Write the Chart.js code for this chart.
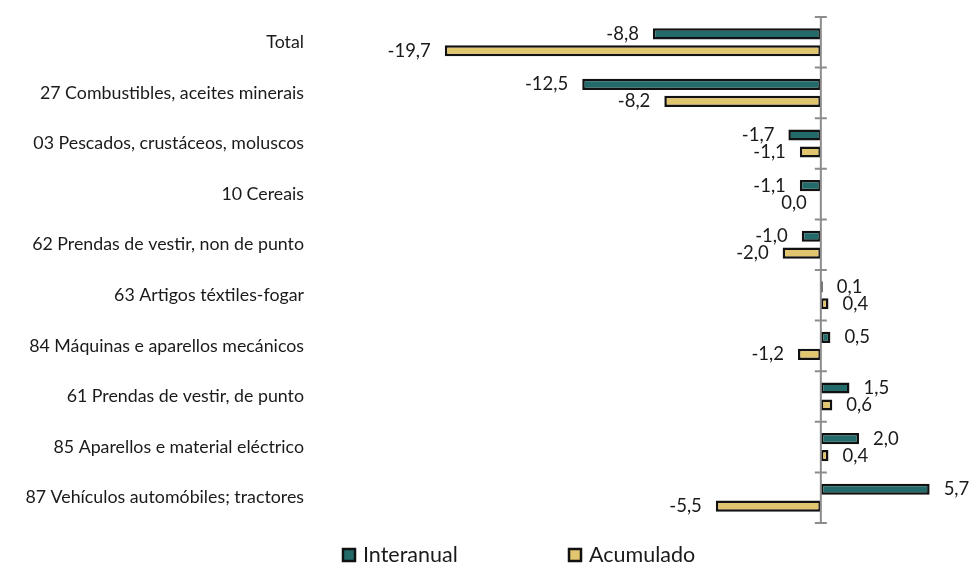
<!DOCTYPE html>
<html>
<head>
<meta charset="utf-8">
<script src="https://cdn.jsdelivr.net/npm/chart.js@4.4.1/dist/chart.umd.min.js"></script>
<style>
  html, body { margin: 0; padding: 0; background: #fff; }
  #wrap { width: 971px; height: 566px; }
</style>
</head>
<body>
<div id="wrap"><canvas id="chart"></canvas></div>
<script>
const categories = [
  'Total',
  '27 Combustibles, aceites minerais',
  '03 Pescados, crustáceos, moluscos',
  '10 Cereais',
  '62 Prendas de vestir, non de punto',
  '63 Artigos téxtiles-fogar',
  '84 Máquinas e aparellos mecánicos',
  '61 Prendas de vestir, de punto',
  '85 Aparellos e material eléctrico',
  '87 Vehículos automóbiles; tractores'
];
const interanual = [-8.8, -12.5, -1.7, -1.1, -1.0, 0.1, 0.5, 1.5, 2.0, 5.7];
const acumulado = [-19.7, -8.2, -1.1, 0.0, -2.0, 0.4, -1.2, 0.6, 0.4, -5.5];

const FONT = 'Lato';
const fmt = v => v.toFixed(1).replace('.', ',');

const zeroAxis = {
  id: 'zeroAxis',
  afterDatasetsDraw(chart) {
    const { ctx, chartArea } = chart;
    const x0 = chart.scales.x.getPixelForValue(0);
    const n = categories.length;
    const step = (chartArea.bottom - chartArea.top) / n;
    ctx.save();
    ctx.strokeStyle = '#8c8c8c';
    ctx.lineWidth = 2;
    ctx.beginPath();
    ctx.moveTo(x0, chartArea.top);
    ctx.lineTo(x0, chartArea.bottom);
    for (let i = 0; i <= n; i++) {
      const y = chartArea.top + i * step;
      ctx.moveTo(x0 - 6, y);
      ctx.lineTo(x0 + 6, y);
    }
    ctx.stroke();
    ctx.restore();
  }
};

const valueLabels = {
  id: 'valueLabels',
  afterDatasetsDraw(chart) {
    const { ctx } = chart;
    ctx.save();
    ctx.font = '18.5px ' + FONT;
    ctx.fillStyle = '#1a1a1a';
    ctx.textBaseline = 'middle';
    chart.data.datasets.forEach((ds, di) => {
      chart.getDatasetMeta(di).data.forEach((bar, i) => {
        const v = ds.data[i];
        if (v <= 0) {
          ctx.textAlign = 'right';
          ctx.fillText(fmt(v), bar.x - 14, bar.y);
        } else {
          ctx.textAlign = 'left';
          ctx.fillText(fmt(v), bar.x + 14, bar.y);
        }
      });
    });
    ctx.restore();
  }
};

const bottomLegend = {
  id: 'bottomLegend',
  afterDraw(chart) {
    const { ctx } = chart;
    const xs = [342, 568];
    const y = 555;
    ctx.save();
    ctx.font = '21.5px ' + FONT;
    ctx.textBaseline = 'middle';
    ctx.textAlign = 'left';
    chart.data.datasets.forEach((ds, i) => {
      ctx.fillStyle = ds.backgroundColor;
      ctx.fillRect(xs[i], y - 7, 14, 14);
      ctx.strokeStyle = '#111';
      ctx.lineWidth = 2.5;
      ctx.strokeRect(xs[i] + 1, y - 6, 12, 12);
      ctx.fillStyle = '#1a1a1a';
      ctx.fillText(ds.label, xs[i] + 21, y);
    });
    ctx.restore();
  }
};

new Chart(document.getElementById('chart'), {
  type: 'bar',
  data: {
    labels: categories,
    datasets: [
      {
        label: 'Interanual',
        data: interanual,
        backgroundColor: '#236b6b',
        borderColor: '#111',
        borderWidth: 2.5,
        borderSkipped: false,
        categoryPercentage: 0.67,
        barPercentage: 0.66
      },
      {
        label: 'Acumulado',
        data: acumulado,
        backgroundColor: '#e2c66f',
        borderColor: '#111',
        borderWidth: 2.5,
        borderSkipped: false,
        categoryPercentage: 0.67,
        barPercentage: 0.66
      }
    ]
  },
  options: {
    indexAxis: 'y',
    responsive: true,
    maintainAspectRatio: false,
    animation: false,
    layout: { padding: { top: 17, right: 7, bottom: 43, left: 0 } },
    plugins: {
      legend: { display: false },
      tooltip: { enabled: false }
    },
    scales: {
      x: {
        display: false,
        min: -26.5,
        max: 7.5
      },
      y: {
        grid: { display: false },
        border: { display: false },
        ticks: {
          color: '#1a1a1a',
          padding: 3,
          font: { family: FONT, size: 17.8 }
        },
        afterFit(scale) { scale.width = 315; }
      }
    }
  },
  plugins: [zeroAxis, valueLabels, bottomLegend]
});
</script>
</body>
</html>
